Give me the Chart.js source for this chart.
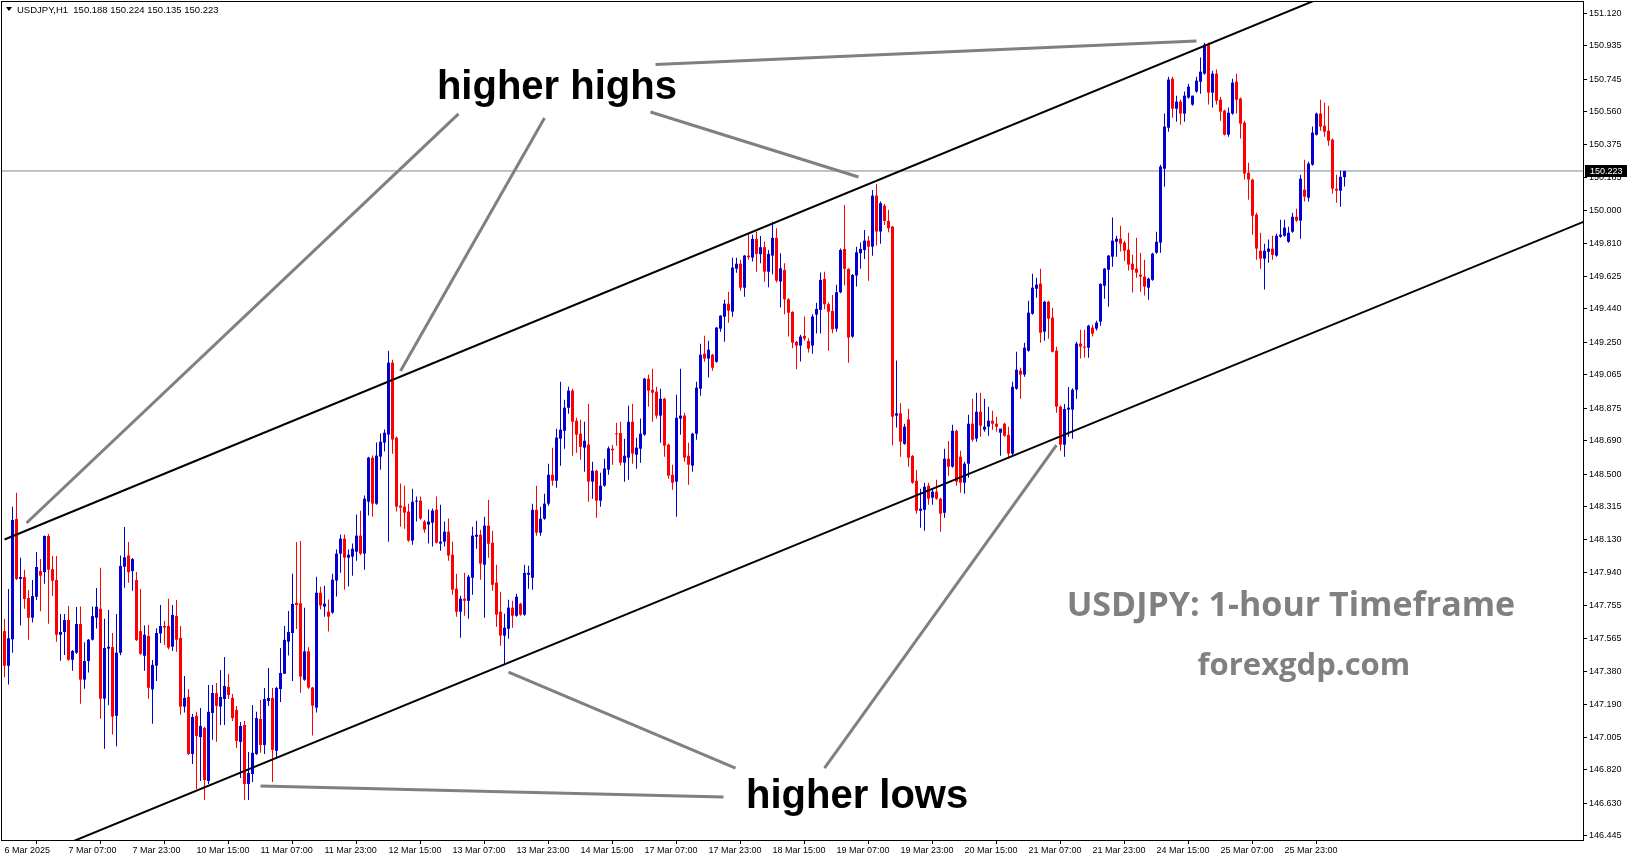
<!DOCTYPE html>
<html><head><meta charset="utf-8">
<script src="https://cdn.jsdelivr.net/npm/chart.js@4.4.1/dist/chart.umd.min.js"></script>
<style>html,body{margin:0;padding:0;background:#fff;overflow:hidden}#wrap{position:relative;width:1631px;height:861px}</style>
</head><body><div id="wrap"><canvas id="c" width="1631" height="861"></canvas></div>
<script>
const symbolTitle = 'USDJPY,H1';
const headerOHLC = ['150.188', '150.224', '150.135', '150.223'];
const lastPrice = 150.223;

const opens = [147.609,147.412,147.562,148.246,147.905,147.916,147.797,147.685,147.804,147.950,147.944,148.149,147.961,147.899,147.588,147.604,147.672,147.446,147.486,147.649,147.333,147.439,147.560,147.685,147.736,147.225,147.509,147.518,147.128,147.486,147.975,148.039,147.950,147.899,147.609,147.469,147.581,147.278,147.413,147.595,147.638,147.638,147.521,147.695,147.570,147.180,147.235,146.911,147.127,147.007,147.059,146.757,147.144,147.257,147.180,147.223,147.292,147.229,147.161,146.979,147.076,146.740,146.797,146.911,147.110,146.962,147.212,147.229,146.928,147.280,147.367,147.549,147.598,147.769,147.767,147.333,147.494,147.288,147.174,147.827,147.748,147.719,147.714,147.896,148.049,148.134,148.026,148.032,148.060,148.151,148.049,148.344,148.594,148.333,148.600,148.680,148.725,149.134,148.708,148.322,148.316,148.288,148.123,148.344,148.350,148.231,148.214,148.225,148.299,148.106,148.117,148.174,148.043,147.850,147.719,147.793,147.781,147.912,148.145,148.156,147.986,148.208,148.111,147.884,147.719,147.583,147.622,147.742,147.696,147.764,147.702,147.929,147.912,148.298,148.168,148.247,148.333,148.497,148.463,148.702,148.747,148.878,148.975,148.804,148.730,148.651,148.668,148.458,148.520,148.350,148.435,148.526,148.645,148.732,148.734,148.566,148.594,148.798,148.611,148.645,148.725,149.043,148.980,148.969,148.833,148.929,148.668,148.497,148.458,148.816,148.833,148.605,148.549,148.730,148.986,149.185,149.157,149.179,149.139,149.327,149.395,149.469,149.424,149.668,149.696,149.560,149.742,149.731,149.837,149.750,149.790,149.651,149.742,149.843,149.595,149.661,149.494,149.422,149.252,149.231,149.286,149.257,149.231,149.407,149.434,149.610,149.466,149.428,149.327,149.534,149.780,149.667,149.282,149.629,149.756,149.774,149.827,149.793,150.083,149.879,150.026,149.939,149.907,148.833,148.846,148.673,148.812,148.603,148.463,148.293,148.298,148.435,148.367,148.401,148.361,148.281,148.588,148.543,148.747,148.600,148.452,148.560,148.787,148.702,148.855,148.753,148.770,148.804,148.787,148.736,148.787,148.724,148.617,148.986,149.088,149.066,149.202,149.412,149.554,149.583,149.310,149.480,149.390,149.202,148.884,148.668,148.867,148.867,148.980,149.242,149.225,149.219,149.333,149.327,149.367,149.571,149.662,149.736,149.821,149.838,149.816,149.776,149.696,149.668,149.634,149.623,149.560,149.605,149.759,149.816,150.236,150.469,150.747,150.577,150.617,150.549,150.640,150.600,150.674,150.730,150.776,150.941,150.668,150.776,150.628,150.566,150.429,150.549,150.730,150.634,150.497,150.213,150.174,149.975,149.770,149.725,149.764,149.782,149.742,149.850,149.855,149.821,149.878,149.963,149.941,150.117,150.071,150.259,150.429,150.549,150.480,150.452,150.401,150.122,150.111,150.188];
const highs = [147.677,147.848,148.316,148.395,148.026,147.958,147.842,147.899,148.058,148.018,148.152,148.160,148.035,148.035,147.706,147.706,147.751,147.501,147.746,147.749,147.545,147.564,147.749,147.854,147.969,147.679,147.729,147.598,147.706,148.039,148.200,148.115,148.024,147.944,147.848,147.640,147.645,147.445,147.625,147.757,147.667,147.792,147.757,147.786,147.638,147.354,147.280,147.138,147.150,147.172,147.066,147.303,147.303,147.314,147.388,147.462,147.365,147.252,147.184,147.093,147.098,146.922,147.189,147.150,147.218,147.286,147.399,147.286,147.293,147.513,147.638,147.723,147.934,148.115,148.121,147.742,147.517,147.293,147.918,147.861,147.867,147.788,147.935,148.072,148.157,148.157,148.072,148.106,148.271,148.293,148.379,148.600,148.606,148.680,148.731,148.754,149.202,149.151,148.714,148.447,148.435,148.333,148.418,148.373,148.373,148.240,148.299,148.305,148.373,148.327,148.231,148.248,148.117,147.935,147.810,147.940,147.927,148.202,148.236,148.185,148.259,148.355,148.179,147.986,147.833,147.708,147.787,147.781,147.821,147.770,147.986,147.980,148.333,148.435,148.316,148.389,148.560,148.651,148.759,149.026,148.923,148.997,148.986,148.821,148.810,148.798,148.901,148.571,148.526,148.509,148.588,148.658,148.666,148.793,148.798,148.702,148.889,148.901,148.708,148.816,149.047,149.066,149.100,148.997,148.986,148.935,148.674,148.554,148.952,149.100,148.850,148.679,148.736,149.026,149.242,149.287,149.259,149.185,149.336,149.404,149.492,149.537,149.730,149.730,149.719,149.745,149.869,149.860,149.879,149.854,149.822,149.774,149.935,149.898,149.756,149.699,149.500,149.426,149.257,149.293,149.396,149.273,149.409,149.475,149.646,149.651,149.477,149.519,149.576,149.782,150.030,149.670,149.638,149.793,149.816,149.888,149.854,150.115,150.149,150.049,150.036,150.002,149.911,149.146,148.903,148.787,148.872,148.609,148.524,148.418,148.452,148.452,148.418,148.469,148.367,148.645,148.689,148.781,148.753,148.634,148.571,148.838,148.929,148.963,148.963,148.929,148.884,148.861,148.827,148.759,148.793,148.770,149.026,149.196,149.105,149.247,149.486,149.639,149.617,149.668,149.486,149.486,149.446,149.225,148.890,148.899,148.996,148.988,149.253,149.321,149.321,149.350,149.350,149.372,149.585,149.672,149.745,149.958,149.855,149.912,149.827,149.872,149.747,149.844,149.759,149.719,149.617,149.759,149.878,150.259,150.549,150.759,150.759,150.651,150.628,150.674,150.719,150.651,150.759,150.867,150.952,150.952,150.793,150.799,150.645,150.571,150.583,150.747,150.776,150.640,150.509,150.270,150.179,149.986,149.872,149.810,149.833,149.855,149.867,149.946,149.946,149.906,149.986,150.009,150.202,150.287,150.276,150.475,150.554,150.628,150.611,150.594,150.407,150.202,150.225,150.224];
const lows = [147.346,147.306,147.486,147.899,147.640,147.736,147.560,147.657,147.785,147.721,147.878,147.651,147.808,147.549,147.441,147.473,147.440,147.384,147.480,147.196,147.282,147.373,147.555,147.623,147.111,146.941,147.187,147.022,146.954,147.471,147.855,147.884,147.838,147.552,147.475,147.384,147.225,147.083,147.326,147.541,147.530,147.504,147.496,147.492,147.134,147.146,146.905,146.854,146.712,146.757,146.649,146.740,146.991,146.980,147.076,147.076,147.223,147.098,146.945,146.774,146.649,146.649,146.752,146.905,146.917,146.911,147.184,146.752,146.882,147.206,147.365,147.470,147.326,147.621,147.259,147.327,147.282,147.015,147.146,147.731,147.691,147.606,147.708,147.805,147.941,147.844,147.862,147.924,148.009,148.041,147.958,148.265,148.259,148.327,148.526,148.629,148.117,148.617,148.288,148.202,148.191,148.117,148.100,148.231,148.242,148.168,148.106,148.089,148.106,148.066,148.089,148.009,147.815,147.690,147.571,147.696,147.679,147.815,148.077,147.901,147.685,148.026,147.838,147.634,147.526,147.418,147.565,147.628,147.690,147.696,147.696,147.850,147.844,148.151,148.151,148.242,148.321,148.435,148.423,148.548,148.645,148.844,148.605,148.622,148.583,148.514,148.344,148.361,148.253,148.316,148.429,148.497,148.554,148.662,148.549,148.458,148.469,148.560,148.531,148.566,148.719,148.884,148.798,148.816,148.679,148.600,148.475,148.412,148.259,148.725,148.571,148.441,148.514,148.696,148.946,149.139,149.049,149.088,149.134,149.310,149.253,149.361,149.395,149.645,149.543,149.509,149.718,149.708,149.651,149.699,149.594,149.562,149.636,149.589,149.447,149.409,149.282,149.216,149.096,149.140,149.259,149.191,149.185,149.299,149.299,149.437,149.202,149.301,149.310,149.528,149.572,149.134,149.276,149.566,149.667,149.723,149.600,149.742,149.799,149.809,149.916,149.875,148.663,148.765,148.600,148.668,148.543,148.446,148.276,148.196,148.179,148.327,148.327,148.355,148.173,148.253,148.492,148.537,148.435,148.395,148.389,148.480,148.685,148.685,148.713,148.742,148.719,148.753,148.742,148.605,148.713,148.588,148.605,148.980,148.929,149.054,149.196,149.406,149.503,149.247,149.259,149.270,149.191,148.850,148.634,148.600,148.713,148.702,148.929,149.157,149.162,149.162,149.282,149.316,149.344,149.497,149.452,149.679,149.736,149.765,149.713,149.657,149.532,149.617,149.537,149.515,149.492,149.600,149.753,149.759,150.134,150.446,150.526,150.503,150.486,150.503,150.634,150.594,150.668,150.662,150.770,150.600,150.583,150.600,150.509,150.424,150.418,150.543,150.549,150.407,150.174,150.060,149.861,149.719,149.668,149.549,149.702,149.719,149.736,149.844,149.850,149.815,149.872,149.935,149.838,150.049,150.049,150.253,150.424,150.452,150.418,150.367,150.094,150.043,150.020,150.135];
const closes = [147.412,147.568,148.240,147.905,147.916,147.791,147.685,147.808,147.973,147.924,148.149,147.958,147.895,147.588,147.604,147.672,147.446,147.496,147.649,147.333,147.439,147.560,147.694,147.747,147.225,147.513,147.520,147.123,147.486,147.979,148.028,147.944,148.018,147.558,147.480,147.588,147.287,147.417,147.598,147.638,147.629,147.515,147.701,147.560,147.180,147.229,146.911,147.121,147.013,147.070,146.763,147.150,147.257,147.184,147.235,147.297,147.246,147.115,146.985,147.070,146.740,146.803,146.917,147.115,146.962,147.223,147.229,146.934,147.286,147.371,147.559,147.604,147.763,147.757,147.350,147.494,147.288,147.185,147.827,147.754,147.765,147.691,147.901,148.049,148.134,148.026,148.043,148.077,148.151,148.049,148.361,148.594,148.333,148.606,148.685,148.736,149.134,148.697,148.316,148.310,148.282,148.123,148.344,148.350,148.248,148.185,148.231,148.293,148.111,148.117,148.174,148.038,147.844,147.719,147.793,147.781,147.918,148.151,148.156,147.992,148.208,148.105,147.872,147.702,147.583,147.628,147.742,147.696,147.804,147.702,147.940,147.940,148.298,148.168,148.247,148.333,148.497,148.463,148.708,148.753,148.878,148.975,148.798,148.725,148.656,148.690,148.458,148.520,148.350,148.435,148.533,148.647,148.636,148.727,148.566,148.605,148.798,148.617,148.651,148.730,149.043,148.975,148.963,148.833,148.929,148.662,148.492,148.452,148.821,148.833,148.594,148.554,148.730,148.992,149.179,149.157,149.208,149.105,149.333,149.401,149.469,149.429,149.674,149.696,149.560,149.742,149.733,149.837,149.752,149.790,149.651,149.752,149.843,149.600,149.670,149.494,149.418,149.248,149.231,149.282,149.271,149.214,149.396,149.439,149.604,149.466,149.424,149.324,149.534,149.774,149.667,149.276,149.632,149.761,149.780,149.827,149.793,150.083,149.879,150.040,149.939,149.898,148.827,148.846,148.685,148.770,148.594,148.452,148.293,148.304,148.429,148.361,148.401,148.361,148.276,148.588,148.543,148.747,148.458,148.452,148.560,148.787,148.696,148.855,148.776,148.770,148.804,148.787,148.770,148.759,148.719,148.617,148.997,149.094,149.066,149.219,149.418,149.560,149.577,149.304,149.480,149.384,149.196,148.884,148.668,148.871,148.878,148.980,149.242,149.225,149.219,149.344,149.299,149.361,149.581,149.668,149.742,149.827,149.838,149.810,149.770,149.691,149.662,149.645,149.623,149.566,149.611,149.753,149.821,150.248,150.475,150.742,150.577,150.617,150.549,150.651,150.702,150.651,150.736,150.787,150.941,150.668,150.776,150.622,150.560,150.429,150.554,150.725,150.628,150.492,150.208,150.174,149.969,149.782,149.725,149.770,149.782,149.747,149.855,149.861,149.901,149.872,149.963,149.941,150.179,150.077,150.265,150.441,150.549,150.475,150.446,150.395,150.122,150.111,150.190,150.223];

const timeTickBars = [0,16,32,48,64,80,96,112,128,144,160,176,192,208,224,240,256,272,288,304,320];
const timeTickLabels = ['6 Mar 2025','7 Mar 07:00','7 Mar 23:00','10 Mar 15:00','11 Mar 07:00','11 Mar 23:00','12 Mar 15:00','13 Mar 07:00','13 Mar 23:00','14 Mar 15:00','17 Mar 07:00','17 Mar 23:00','18 Mar 15:00','19 Mar 07:00','19 Mar 23:00','20 Mar 15:00','21 Mar 07:00','21 Mar 23:00','24 Mar 15:00','25 Mar 07:00','25 Mar 23:00'];
const priceTicks = [146.445,146.630,146.820,147.005,147.190,147.380,147.565,147.755,147.940,148.130,148.315,148.500,148.690,148.875,149.065,149.250,149.440,149.625,149.810,150.000,150.185,150.375,150.560,150.745,150.935,151.120];

const upperChannel = [{x: 0, y: 148.129}, {x: 340, y: 151.308}];
const lowerChannel = [{x: 0, y: 146.255}, {x: 400, y: 149.983}];
const bidLine = [{x: -5, y: lastPrice}, {x: 400, y: lastPrice}];

const pointerFromBar   = [113.5, 135, 161.5, 162.75, 179.75, 182.75, 205];
const pointerFromPrice = [150.547, 150.524, 150.558, 150.828, 146.666, 146.831, 146.831];
const pointerToBar     = [5.5, 99, 213.5, 298, 64, 126, 263];
const pointerToPrice   = [148.223, 149.087, 150.189, 150.962, 146.729, 147.376, 148.666];

const noteTexts  = ['higher highs', 'higher lows', 'USDJPY: 1-hour Timeframe', 'forexgdp.com'];
const noteBars   = [138.1, 213.15, 321.6, 324.85];
const notePrices = [150.633, 146.604, 147.695, 147.359];
const noteStyles = [
  {font: 'bold 40px "Liberation Sans", Arial, sans-serif', color: '#000000'},
  {font: 'bold 40px "Liberation Sans", Arial, sans-serif', color: '#000000'},
  {font: 'bold 34px "Open Sans", "Liberation Sans", sans-serif', color: '#808080'},
  {font: 'bold 31px "Open Sans", "Liberation Sans", sans-serif', color: '#808080'}
];

const BULL = '#0000D0';
const BEAR = '#FF0000';
const candleColors = opens.map((o, i) => closes[i] >= o ? BULL : BEAR);
const AXIS_FONT = {family: '"Liberation Sans", Arial, sans-serif', size: 9};

const overlayPlugin = {
  id: 'overlay',
  beforeDraw(chart) {
    const ctx = chart.ctx;
    ctx.save();
    ctx.fillStyle = '#ffffff';
    ctx.fillRect(0, 0, chart.width, chart.height);
    ctx.restore();
  },
  afterDatasetsDraw(chart) {
    const ctx = chart.ctx, xs = chart.scales.x, ys = chart.scales.y, a = chart.chartArea;
    ctx.save();
    ctx.beginPath();
    ctx.rect(a.left, a.top, a.right - a.left, a.bottom - a.top);
    ctx.clip();
    ctx.strokeStyle = '#808080';
    ctx.lineWidth = 3;
    ctx.lineCap = 'butt';
    for (let i = 0; i < pointerFromBar.length; i++) {
      ctx.beginPath();
      ctx.moveTo(xs.getPixelForValue(pointerFromBar[i]), ys.getPixelForValue(pointerFromPrice[i]));
      ctx.lineTo(xs.getPixelForValue(pointerToBar[i]), ys.getPixelForValue(pointerToPrice[i]));
      ctx.stroke();
    }
    ctx.textAlign = 'center';
    ctx.textBaseline = 'alphabetic';
    for (let i = 0; i < noteTexts.length; i++) {
      ctx.font = noteStyles[i].font;
      ctx.fillStyle = noteStyles[i].color;
      ctx.fillText(noteTexts[i], xs.getPixelForValue(noteBars[i]), ys.getPixelForValue(notePrices[i]));
    }
    ctx.restore();
  },
  afterDraw(chart) {
    const ctx = chart.ctx, a = chart.chartArea, ys = chart.scales.y;
    ctx.save();
    ctx.strokeStyle = '#000';
    ctx.lineWidth = 1;
    ctx.strokeRect(Math.round(a.left) - 0.5, Math.round(a.top) - 0.5, Math.round(a.right - a.left) + 1, Math.round(a.bottom - a.top) + 1);
    // header
    ctx.fillStyle = '#000';
    ctx.beginPath();
    ctx.moveTo(6, 7); ctx.lineTo(12, 7); ctx.lineTo(9, 11); ctx.closePath();
    ctx.fill();
    ctx.font = '9.5px "Liberation Sans", Arial, sans-serif';
    ctx.textBaseline = 'middle';
    ctx.textAlign = 'left';
    ctx.fillText(symbolTitle + '  ' + headerOHLC.join(' '), 17, 10);
    // last price label
    const yp = Math.round(ys.getPixelForValue(lastPrice));
    ctx.fillStyle = '#000';
    ctx.fillRect(a.right + 2, yp - 6, 42, 12);
    ctx.fillStyle = '#fff';
    ctx.font = '9px "Liberation Sans", Arial, sans-serif';
    ctx.fillText(lastPrice.toFixed(3), a.right + 7, yp + 0.5);
    ctx.restore();
  }
};

new Chart(document.getElementById('c'), {
  type: 'bar',
  data: {
    datasets: [
      {type: 'line', data: upperChannel, borderColor: '#000', borderWidth: 2, pointRadius: 0, order: 0},
      {type: 'line', data: lowerChannel, borderColor: '#000', borderWidth: 2, pointRadius: 0, order: 0},
      {type: 'bar', data: opens.map((o, i) => ({x: i, y: [o, closes[i]]})), backgroundColor: candleColors,
        barThickness: 3, grouped: false, minBarLength: 1, inflateAmount: 0, borderWidth: 0, order: 1},
      {type: 'bar', data: opens.map((o, i) => ({x: i, y: [lows[i], highs[i]]})), backgroundColor: candleColors,
        barThickness: 1, grouped: false, minBarLength: 1, inflateAmount: 0, borderWidth: 0, order: 2},
      {type: 'line', data: bidLine, borderColor: '#778899', borderWidth: 1, pointRadius: 0, order: 3}
    ]
  },
  options: {
    responsive: false,
    animation: false,
    devicePixelRatio: 1,
    layout: {padding: {left: 2, top: 2, right: 0, bottom: 0}},
    plugins: {legend: {display: false}, tooltip: {enabled: false}},
    scales: {
      x: {
        type: 'linear', min: -0.625, max: 394.625, offset: false,
        afterFit: s => { s.height = 21; s.paddingLeft = 0; s.paddingRight = 0; },
        afterBuildTicks: s => { s.ticks = timeTickBars.map(v => ({value: v})); },
        ticks: {
          callback: v => timeTickLabels[timeTickBars.indexOf(v)],
          align: 'start', maxRotation: 0, autoSkip: false, font: AXIS_FONT, color: '#000', padding: 1
        },
        grid: {drawOnChartArea: false, drawTicks: true, tickLength: 4, color: '#000'},
        border: {display: true, color: '#000'}
      },
      y: {
        position: 'right', min: 146.422, max: 151.183,
        afterFit: s => { s.width = 48; s.paddingTop = 0; s.paddingBottom = 0; },
        afterBuildTicks: s => { s.ticks = priceTicks.map(v => ({value: v})); },
        ticks: {callback: v => v.toFixed(3), font: AXIS_FONT, color: '#000', padding: 2, autoSkip: false},
        grid: {drawOnChartArea: false, drawTicks: true, tickLength: 4, color: '#000'},
        border: {display: true, color: '#000'}
      }
    }
  },
  plugins: [overlayPlugin]
});
</script>
</body></html>
